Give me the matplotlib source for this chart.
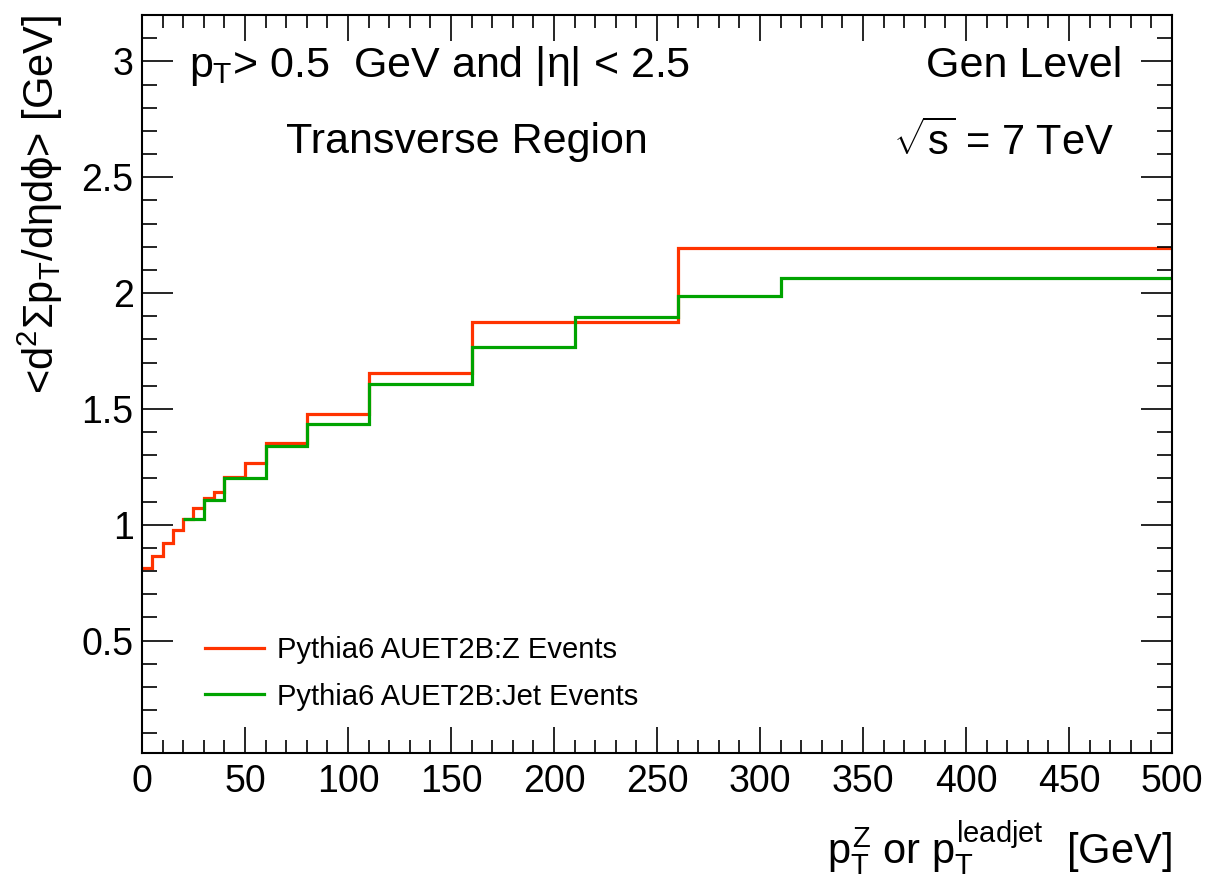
import matplotlib
matplotlib.use("Agg")
import matplotlib.pyplot as plt
from matplotlib.lines import Line2D
from matplotlib.ticker import MultipleLocator

# step histograms
z_edges = [0, 5, 10, 15, 20, 25, 30, 35, 40, 50, 60, 80, 110, 160, 260, 500]
z_vals = [0.815, 0.866, 0.920, 0.978, 1.025, 1.071, 1.117, 1.142, 1.207,
          1.265, 1.353, 1.478, 1.657, 1.874, 2.194]

jet_edges = [20, 30, 40, 60, 80, 110, 160, 210, 260, 310, 500]
jet_vals = [1.025, 1.107, 1.200, 1.340, 1.437, 1.606, 1.769, 1.895, 1.989, 2.066]

labels = ["Pythia6 AUET2B:Z Events", "Pythia6 AUET2B:Jet Events"]
colors = ["#ff3300", "#00a300"]

plt.rcParams["font.family"] = ["Liberation Sans", "DejaVu Sans"]
plt.rcParams["mathtext.fontset"] = "custom"
plt.rcParams["mathtext.rm"] = "Liberation Sans"
plt.rcParams["mathtext.it"] = "Liberation Sans"
plt.rcParams["mathtext.bf"] = "Liberation Sans:bold"

fig = plt.figure(figsize=(12.28, 8.9), dpi=100)
ax = fig.add_axes([0.1156, 0.1539, 0.8388, 0.8292])

ax.stairs(z_vals, z_edges, baseline=None, color=colors[0], lw=2.3)
ax.stairs(jet_vals, jet_edges, baseline=None, color=colors[1], lw=2.3)

ax.set_xlim(0, 500)
ax.set_ylim(0.015, 3.2)

ax.xaxis.set_major_locator(MultipleLocator(50))
ax.xaxis.set_minor_locator(MultipleLocator(10))
ax.yaxis.set_major_locator(MultipleLocator(0.5))
ax.yaxis.set_minor_locator(MultipleLocator(0.1))
ax.set_yticks([0.5, 1, 1.5, 2, 2.5, 3])
ax.set_yticklabels(["0.5", "1", "1.5", "2", "2.5", "3"])

ax.tick_params(axis="both", which="both", direction="in", top=True, right=True,
               width=1.2, labelsize=27)
ax.tick_params(axis="x", which="major", length=19, pad=8)
ax.tick_params(axis="x", which="minor", length=9.5)
ax.tick_params(axis="y", which="major", length=22, pad=6)
ax.tick_params(axis="y", which="minor", length=11)
for s in ax.spines.values():
    s.set_linewidth(1.5)

ax.set_xlabel(r"$p_{T}^{Z}$ or $p_{T}^{leadjet}$  [GeV]", fontsize=30,
              loc="right", labelpad=14)
ax.set_ylabel(r"<d$^{2}\Sigma$p$_{T}$/d$\eta$d$\phi$> [GeV]", fontsize=30,
              loc="top", labelpad=12)

ax.text(23, 2.98, r"$p_{T}$> 0.5  GeV and |$\eta$| < 2.5", fontsize=31,
        ha="left", va="center")
ax.text(70, 2.65, "Transverse Region", fontsize=31, ha="left", va="center")
ax.text(476, 2.98, "Gen Level", fontsize=31, ha="right", va="center")
ax.text(472, 2.65, r"$\sqrt{s}$ = 7 TeV", fontsize=30, ha="right", va="center")

handles = [Line2D([], [], color=c, lw=2.3) for c in colors]
ax.legend(handles, labels, loc="lower left", bbox_to_anchor=(0.036, 0.022),
          frameon=False, fontsize=21, handlelength=2.0, handletextpad=0.45,
          labelspacing=0.62)

fig.savefig("out.png", dpi=100)
